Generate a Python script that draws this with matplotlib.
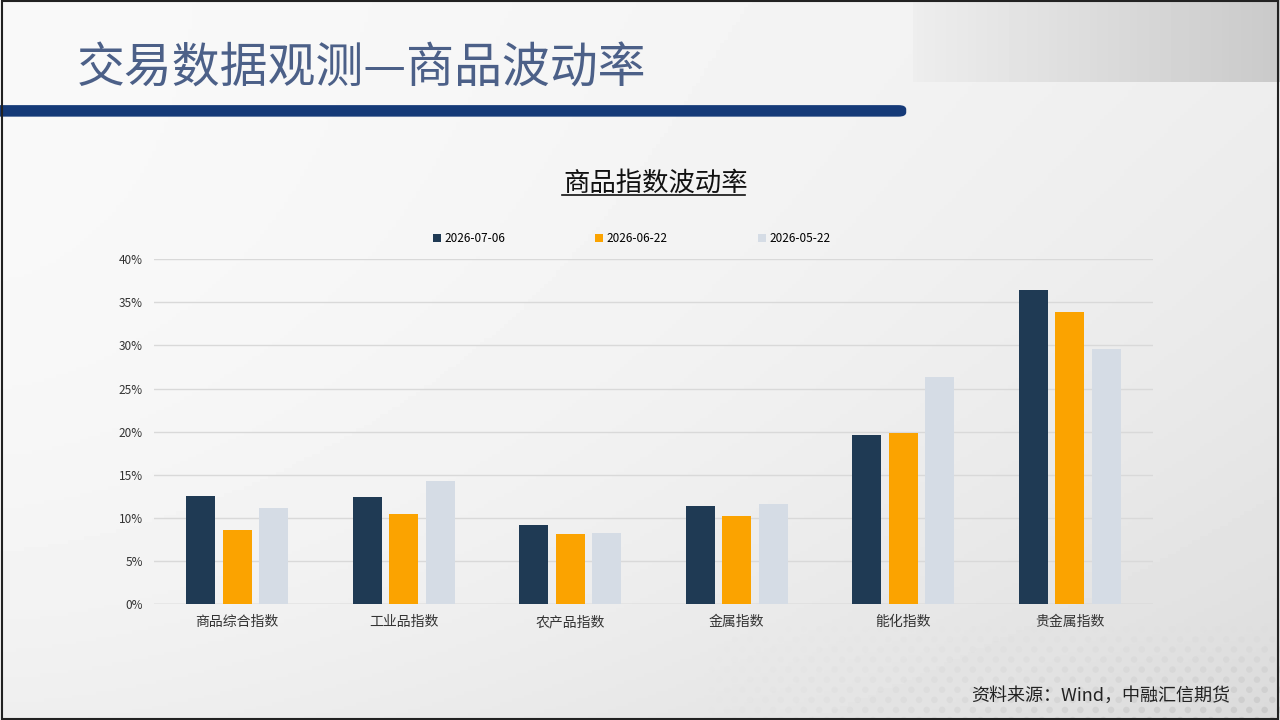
import numpy as np
import matplotlib
matplotlib.use('Agg')
import matplotlib.pyplot as plt
from matplotlib.patches import FancyBboxPatch, Rectangle

plt.rcParams['font.family'] = ['Noto Sans CJK SC', 'DejaVu Sans']

# 数据
categories = ['商品综合指数', '工业品指数', '农产品指数', '金属指数', '能化指数', '贵金属指数']
series_names = ['2026-07-06', '2026-06-22', '2026-05-22']
vol_0706 = [12.5, 12.4, 9.2, 11.4, 19.6, 36.4]
vol_0622 = [8.6, 10.4, 8.1, 10.2, 19.9, 33.9]
vol_0522 = [11.2, 14.3, 8.3, 11.6, 26.3, 29.6]
colors = ['#1f3a54', '#fba300', '#d5dce5']

fig = plt.figure(figsize=(12.8, 7.2), dpi=100)

# 背景渐变
bg = fig.add_axes([0, 0, 1, 1], zorder=-10)
yy, xx = np.mgrid[0:1:200j, 0:1:320j]
grad = 0.975 - 0.08 * xx ** 1.5 * (0.5 + 0.5 * yy) - 0.04 * yy ** 3
grad = np.clip(grad, 0.8, 1.0)
bg.imshow(grad, cmap='gray', vmin=0, vmax=1, extent=[0, 1, 0, 1], aspect='auto')
# 右上角灰色块（左侧淡入）
g2 = np.tile(np.linspace(0.93, 0.79, 100), (20, 1))
bg.imshow(g2, cmap='gray', vmin=0, vmax=1, extent=[0.713, 1, 0.886, 1], aspect='auto')
# 底部点阵装饰
hx, hy = np.meshgrid(np.arange(0.55, 1.0, 0.012), np.arange(0.0, 0.13, 0.014))
hx = hx + (np.arange(hx.shape[0])[:, None] % 2) * 0.006
alpha = np.clip((hx - 0.55) / 0.45, 0, 1) * np.clip((0.13 - hy) / 0.13, 0, 1)
dots = bg.scatter(hx.ravel(), hy.ravel(), s=22, edgecolors='none', zorder=2)
dots.set_facecolor([(0.72, 0.72, 0.72, a * 0.5) for a in alpha.ravel()])
bg.set_xlim(0, 1)
bg.set_ylim(0, 1)
bg.axis('off')

# 顶部标题和蓝条
fig.text(0.060, 0.905, '交易数据观测—商品波动率', fontsize=34.5, color='#4c6088',
         va='center', ha='left')
band = FancyBboxPatch((-0.02, 0.838), 0.728, 0.016,
                      boxstyle='round,pad=0,rounding_size=0.006',
                      transform=fig.transFigure, facecolor='#153a78',
                      edgecolor='none')
fig.patches.append(band)
fig.patches.append(Rectangle((0.0015, 0.002), 0.997, 0.996, transform=fig.transFigure,
                             facecolor='none', edgecolor='#222222', linewidth=1.5))

# 图表
ax = fig.add_axes([0.1203, 0.161, 0.7805, 0.479])
ax.patch.set_alpha(0)
x = np.arange(len(categories))
w = 0.175
step = 0.22
for i, (vals, name) in enumerate(zip([vol_0706, vol_0622, vol_0522], series_names)):
    ax.bar(x + (i - 1) * step, vals, width=w, color=colors[i], label=name, zorder=3)

ax.set_xlim(-0.5, len(categories) - 0.5)
ax.set_ylim(0, 40)
ax.set_yticks(range(0, 41, 5))
ax.set_yticklabels([f'{v}%' for v in range(0, 41, 5)], fontsize=8.5, color='#333333')
ax.set_xticks(x)
ax.set_xticklabels(categories, fontsize=10, color='#333333')
ax.tick_params(length=0)
ax.tick_params(axis='x', pad=8)
ax.tick_params(axis='y', pad=8)
ax.grid(axis='y', color='#d9d9d9', linewidth=1, zorder=0)
for s in ax.spines.values():
    s.set_visible(False)
ax.axhline(0, color='#d0d0d0', linewidth=1, zorder=2)

ax.legend(loc='lower center', bbox_to_anchor=(0.478, 1.01), ncol=3, frameon=False,
          fontsize=8.5, handlelength=0.7, handleheight=0.7, handletextpad=0.3,
          columnspacing=7.6)

fig.text(0.512, 0.745, '商品指数波动率', fontsize=19, color='#111111',
         ha='center', va='center')
fig.lines.append(plt.Line2D([0.439, 0.582], [0.7285, 0.7285], transform=fig.transFigure,
                            color='#111111', linewidth=1.2))

fig.text(0.961, 0.033, '资料来源：Wind，中融汇信期货', fontsize=13, color='#222222',
         ha='right', va='center')

fig.savefig('out.png', dpi=100)
